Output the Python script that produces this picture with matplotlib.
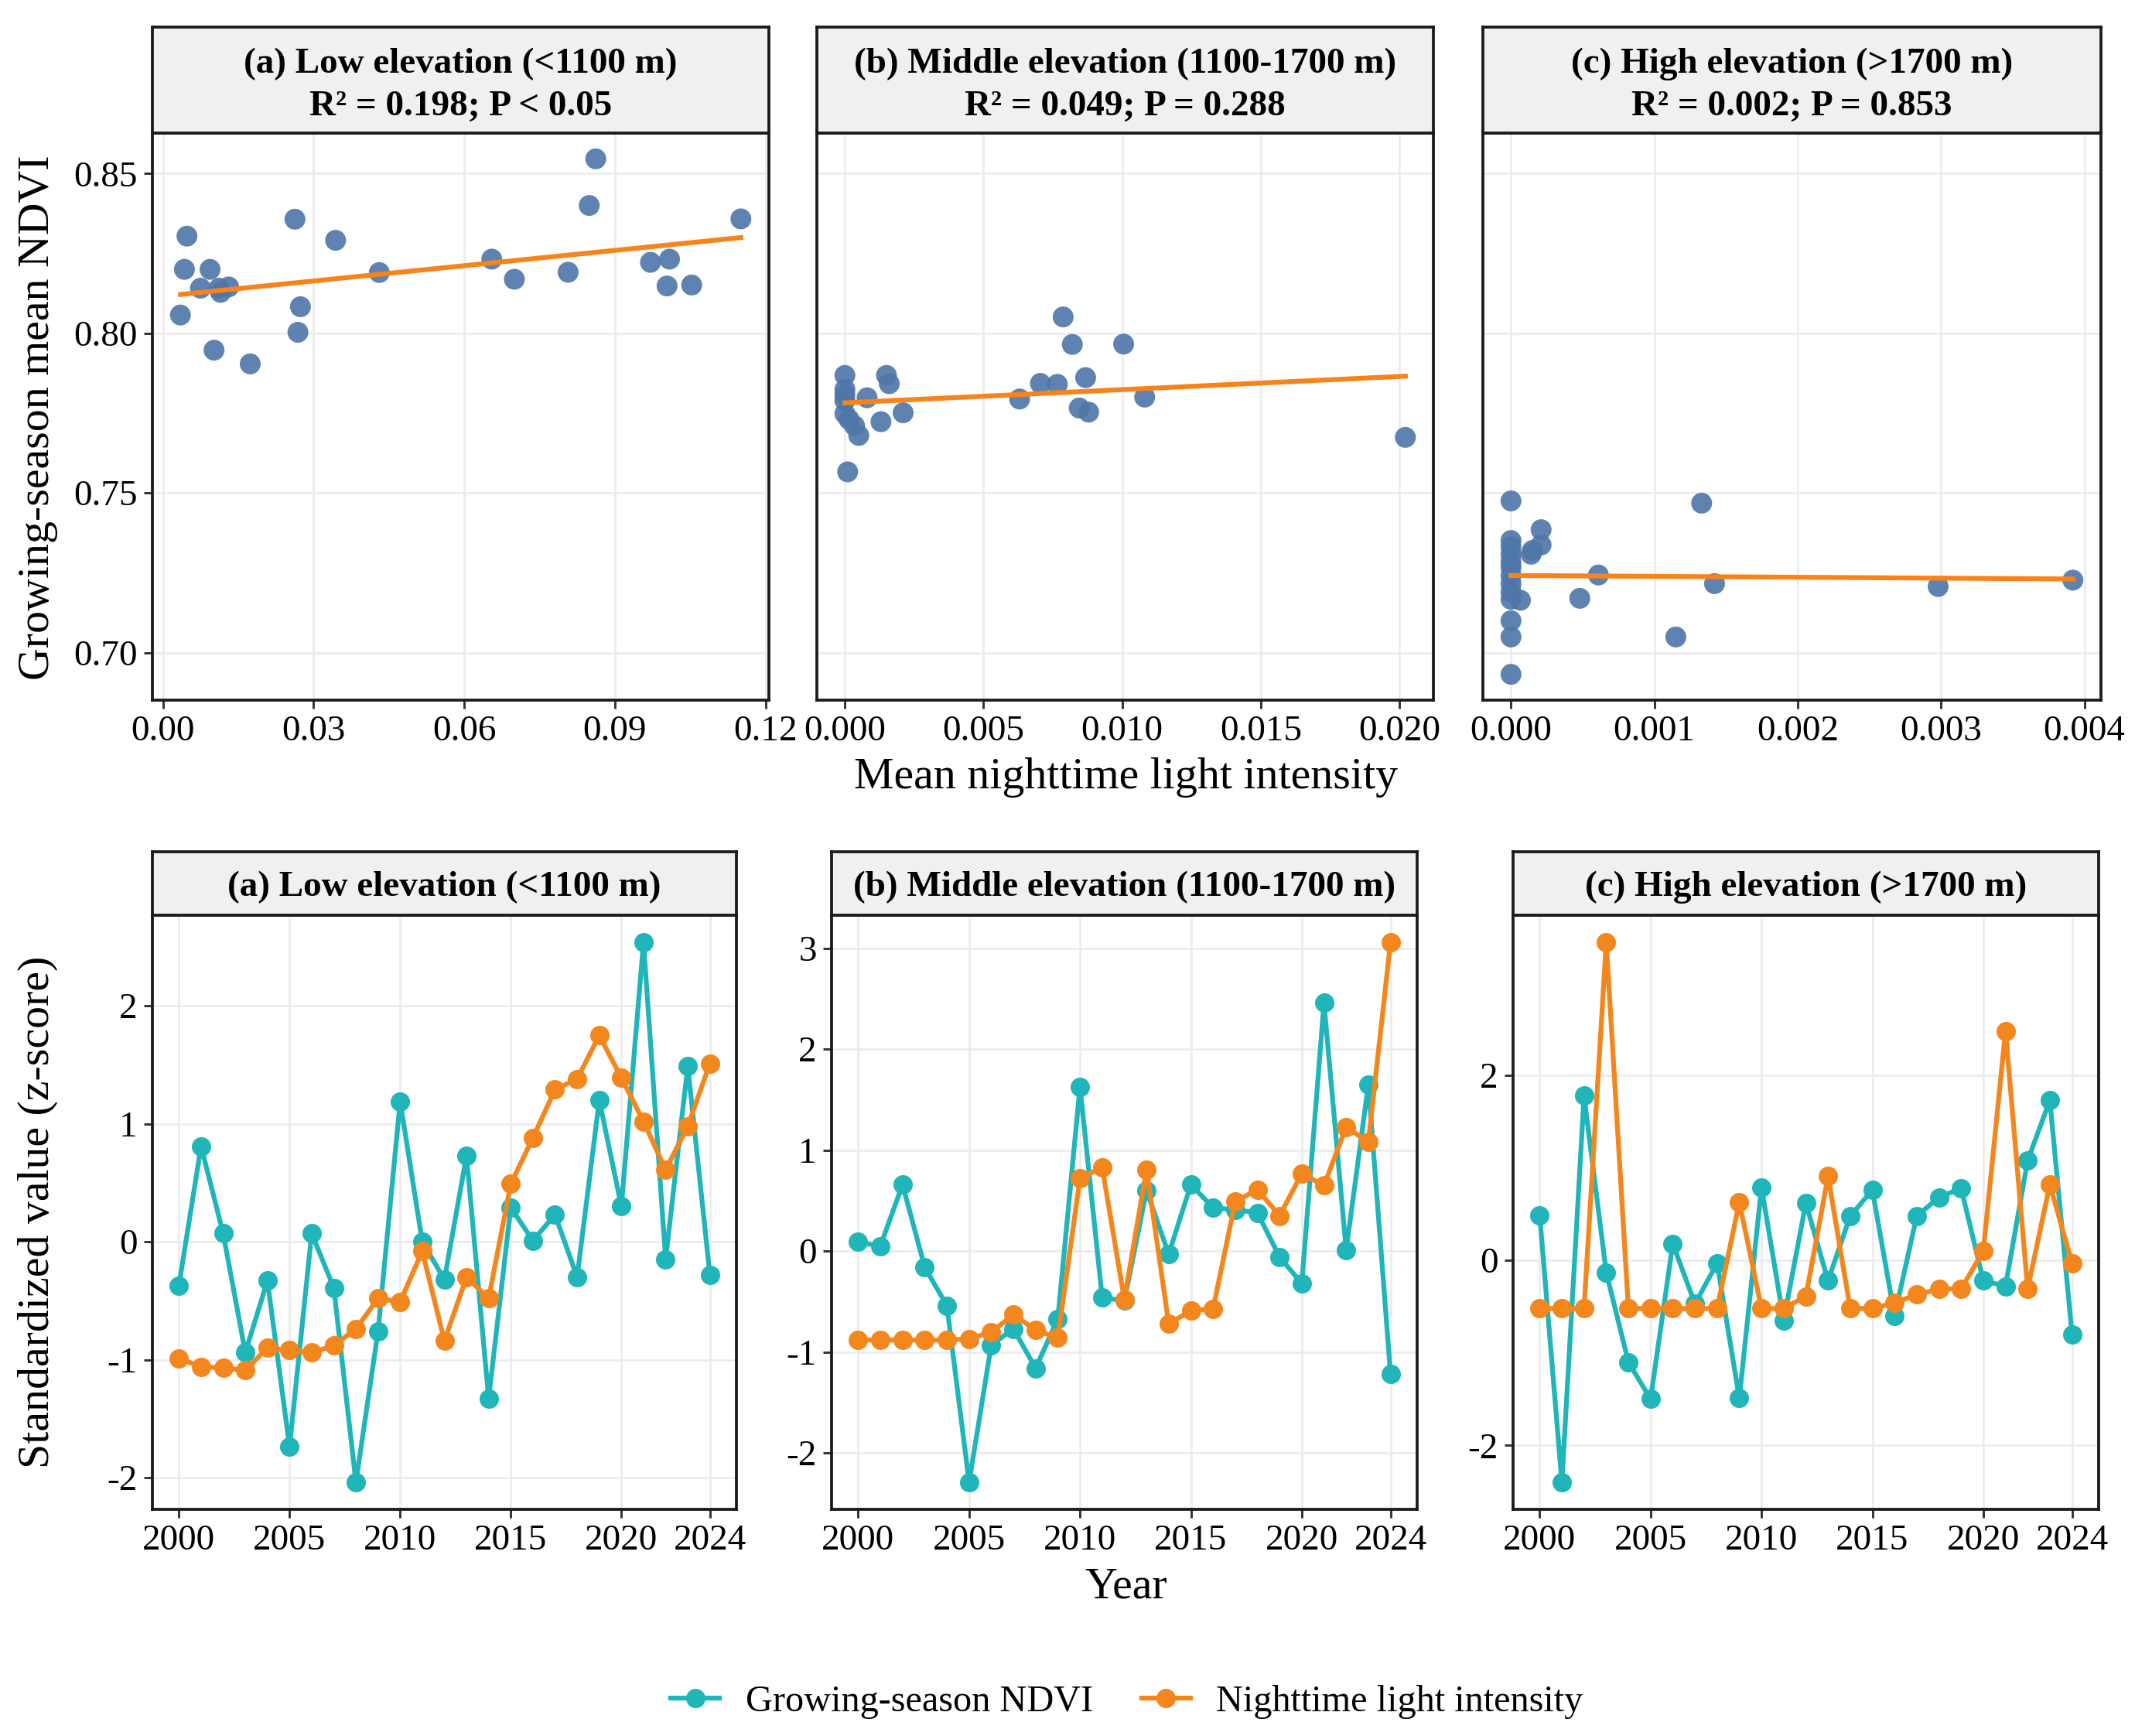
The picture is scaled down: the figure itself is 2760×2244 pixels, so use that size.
import numpy as np
import matplotlib.pyplot as plt
from matplotlib.lines import Line2D

plt.rcParams['font.family'] = ['Liberation Serif', 'DejaVu Serif']

W, H = 2760, 2244

# ---- scatter data: mean nighttime light vs growing-season NDVI ----
low_ntl = [0.0048, 0.0043, 0.0094, 0.0075, 0.0112, 0.0131, 0.0115, 0.0035, 0.0102,
           0.0174, 0.0263, 0.0344, 0.0274, 0.0269, 0.0431, 0.0655, 0.0700, 0.0807,
           0.0862, 0.0849, 0.0971, 0.1009, 0.1004, 0.1053, 0.1151]
low_ndvi = [0.8304, 0.8200, 0.8200, 0.8141, 0.8141, 0.8145, 0.8128, 0.8057, 0.7947,
            0.7904, 0.8357, 0.8291, 0.8083, 0.8003, 0.8190, 0.8232, 0.8169, 0.8191,
            0.8546, 0.8400, 0.8222, 0.8232, 0.8148, 0.8151, 0.8358]

mid_ntl = [0.0000, 0.0000, 0.0000, 0.0000, 0.0000, 0.00015, 0.00035, 0.0005, 0.0001,
           0.0008, 0.0015, 0.0016, 0.0013, 0.0021, 0.0063, 0.00705, 0.00766, 0.00787,
           0.0082, 0.00868, 0.00845, 0.00879, 0.01005, 0.01081, 0.02021]
mid_ndvi = [0.7868, 0.7824, 0.7806, 0.7789, 0.7748, 0.7730, 0.7710, 0.7680, 0.7566,
            0.7798, 0.7868, 0.7842, 0.7723, 0.7751, 0.7794, 0.7843, 0.7840, 0.8051,
            0.7965, 0.7861, 0.7766, 0.7753, 0.7966, 0.7800, 0.7674]

high_ntl = [0.0000, 0.0000, 0.0000, 0.0000, 0.0000, 0.0000, 0.0000, 0.0000, 0.000066,
            0.0000, 0.0000, 0.0000, 0.00021, 0.00015, 0.00021, 0.00014, 0.00061, 0.00048,
            0.00133, 0.00142, 0.00115, 0.00298, 0.00392, 0.0000, 0.0000]
high_ndvi = [0.7475, 0.7351, 0.7331, 0.7308, 0.7267, 0.7241, 0.7190, 0.7167, 0.7164,
             0.7100, 0.7049, 0.6932, 0.7385, 0.7320, 0.7337, 0.7308, 0.7243, 0.7170,
             0.7468, 0.7216, 0.7049, 0.7207, 0.7227, 0.7284, 0.7216]

# ---- time series (z-scores) ----
years = list(range(2000, 2025))
low_z_ndvi = [-0.37, 0.81, 0.07, -0.94, -0.33, -1.74, 0.07, -0.39, -2.04, -0.76,
              1.19, 0.00, -0.32, 0.73, -1.33, 0.29, 0.01, 0.23, -0.30, 1.20,
              0.30, 2.54, -0.15, 1.49, -0.28]
low_z_ntl = [-0.99, -1.06, -1.07, -1.09, -0.90, -0.92, -0.94, -0.88, -0.74, -0.48,
             -0.51, -0.08, -0.84, -0.30, -0.48, 0.49, 0.88, 1.29, 1.38, 1.75,
             1.39, 1.02, 0.61, 0.98, 1.51]
mid_z_ndvi = [0.09, 0.05, 0.66, -0.16, -0.54, -2.29, -0.93, -0.77, -1.16, -0.67,
              1.63, -0.46, -0.49, 0.60, -0.03, 0.66, 0.43, 0.41, 0.38, -0.06,
              -0.32, 2.46, 0.01, 1.65, -1.22]
mid_z_ntl = [-0.88, -0.88, -0.88, -0.88, -0.88, -0.87, -0.80, -0.63, -0.78, -0.86,
             0.72, 0.83, -0.48, 0.81, -0.72, -0.59, -0.57, 0.49, 0.61, 0.35,
             0.77, 0.65, 1.23, 1.08, 3.06]
high_z_ndvi = [0.49, -2.40, 1.78, -0.13, -1.10, -1.50, 0.18, -0.47, -0.03, -1.49,
               0.79, -0.65, 0.62, -0.22, 0.48, 0.76, -0.60, 0.48, 0.68, 0.78,
               -0.22, -0.28, 1.08, 1.73, -0.80]
high_z_ntl = [-0.52, -0.52, -0.52, 3.44, -0.52, -0.52, -0.52, -0.52, -0.52, 0.63,
              -0.52, -0.52, -0.39, 0.91, -0.52, -0.52, -0.46, -0.37, -0.31, -0.31,
              0.10, 2.48, -0.31, 0.82, -0.03]

top_titles = ['(a) Low elevation (<1100 m)\nR\u00b2 = 0.198; P < 0.05',
              '(b) Middle elevation (1100-1700 m)\nR\u00b2 = 0.049; P = 0.288',
              '(c) High elevation (>1700 m)\nR\u00b2 = 0.002; P = 0.853']
bot_titles = ['(a) Low elevation (<1100 m)',
              '(b) Middle elevation (1100-1700 m)',
              '(c) High elevation (>1700 m)']
top_xticks = [[0.00, 0.03, 0.06, 0.09, 0.12],
              [0.000, 0.005, 0.010, 0.015, 0.020],
              [0.000, 0.001, 0.002, 0.003, 0.004]]
top_xfmt = ['{:.2f}', '{:.3f}', '{:.3f}']
bot_yticks = [[-2, -1, 0, 1, 2], [-2, -1, 0, 1, 2, 3], [-2, 0, 2]]

PT_COL = '#4E76A8'
FIT_COL = '#F8831A'
NDVI_COL = '#20B5B9'
NTL_COL = '#F3871E'
GRID = '#EBEBEB'
TICK_FS = 11.3
TITLE_FS = 13.9
STRIP_FS = 11.3


def box(x0, y0, x1, y1):
    return [x0 / W, 1 - y1 / H, (x1 - x0) / W, (y1 - y0) / H]


def padded(vals, frac=0.05):
    lo, hi = min(vals), max(vals)
    d = (hi - lo) * frac
    return lo - d, hi + d


def style(ax):
    ax.set_facecolor('white')
    for s in ax.spines.values():
        s.set_linewidth(0.9)
        s.set_color('#1a1a1a')
    ax.grid(True, color=GRID, linewidth=0.6)
    ax.set_axisbelow(True)
    ax.tick_params(direction='out', length=2.6, width=0.7, color='#333333',
                   labelsize=TICK_FS, labelcolor='black', pad=2)


def strip(fig, rect, text, ypos):
    s = fig.add_axes(rect)
    s.set_facecolor('#F0F0F0')
    s.set_xticks([])
    s.set_yticks([])
    for sp in s.spines.values():
        sp.set_linewidth(0.9)
        sp.set_color('#1a1a1a')
    s.text(0.5, ypos, text, ha='center', va='center', fontsize=STRIP_FS,
           fontweight='bold', linespacing=1.4, transform=s.transAxes)


fig = plt.figure(figsize=(W / 300, H / 300), dpi=300)

# ---- top row: scatter + linear fit ----
top_x = [(197, 994), (1056, 1853), (1917, 2716)]
scat = [(low_ntl, low_ndvi), (mid_ntl, mid_ndvi), (high_ntl, high_ndvi)]
all_ndvi = low_ndvi + mid_ndvi + high_ndvi
ylo, yhi = padded(all_ndvi)
for i, (x0, x1) in enumerate(top_x):
    ax = fig.add_axes(box(x0, 172, x1, 905))
    style(ax)
    xs, ys = np.array(scat[i][0]), np.array(scat[i][1])
    ax.scatter(xs, ys, s=42, color=PT_COL, alpha=0.9, edgecolors='none', zorder=3)
    k, b = np.polyfit(xs, ys, 1)
    xx = np.array([xs.min(), xs.max()])
    ax.plot(xx, k * xx + b, color=FIT_COL, linewidth=1.5, zorder=4)
    ax.set_xlim(*padded(scat[i][0]))
    ax.set_ylim(ylo, yhi)
    ax.set_xticks(top_xticks[i])
    ax.set_xticklabels([top_xfmt[i].format(v) for v in top_xticks[i]])
    ax.set_yticks([0.70, 0.75, 0.80, 0.85])
    if i == 0:
        ax.set_yticklabels(['0.70', '0.75', '0.80', '0.85'])
    else:
        ax.tick_params(axis='y', left=False, labelleft=False)
    strip(fig, box(x0, 35, x1, 172), top_titles[i], 0.45)

fig.text(1456 / W, 1 - 1005 / H, 'Mean nighttime light intensity', ha='center',
         va='center', fontsize=TITLE_FS)
fig.text(49 / W, 1 - 540 / H, 'Growing-season mean NDVI', ha='center', va='center',
         rotation=90, fontsize=TITLE_FS)

# ---- bottom row: z-score time series ----
bot_x = [(197, 952), (1075, 1832), (1956, 2713)]
series = [(low_z_ndvi, low_z_ntl), (mid_z_ndvi, mid_z_ntl), (high_z_ndvi, high_z_ntl)]
for i, (x0, x1) in enumerate(bot_x):
    ax = fig.add_axes(box(x0, 1183, x1, 1951))
    style(ax)
    ax.plot(years, series[i][0], color=NDVI_COL, linewidth=1.5, marker='o',
            markersize=5.0, zorder=3)
    ax.plot(years, series[i][1], color=NTL_COL, linewidth=1.5, marker='o',
            markersize=5.0, zorder=4)
    ax.set_xlim(*padded(years))
    ax.set_ylim(*padded(series[i][0] + series[i][1]))
    ax.set_xticks([2000, 2005, 2010, 2015, 2020, 2024])
    ax.set_yticks(bot_yticks[i])
    ax.set_yticklabels([str(v) for v in bot_yticks[i]])
    strip(fig, box(x0, 1101, x1, 1183), bot_titles[i], 0.44)

fig.text(1456 / W, 1 - 2051 / H, 'Year', ha='center', va='center', fontsize=TITLE_FS)
fig.text(49 / W, 1 - 1567 / H, 'Standardized value (z-score)', ha='center',
         va='center', rotation=90, fontsize=TITLE_FS)

handles = [Line2D([], [], color=NDVI_COL, marker='o', markersize=5.0, linewidth=1.5),
           Line2D([], [], color=NTL_COL, marker='o', markersize=5.0, linewidth=1.5)]
fig.legend(handles, ['Growing-season NDVI', 'Nighttime light intensity'],
           loc='center', bbox_to_anchor=(1457 / W, 1 - 2200 / H), ncol=2,
           frameon=False, fontsize=11.6, handlelength=1.3, handletextpad=0.7,
           columnspacing=1.3)

fig.savefig('out.png', dpi=300, facecolor='white')
